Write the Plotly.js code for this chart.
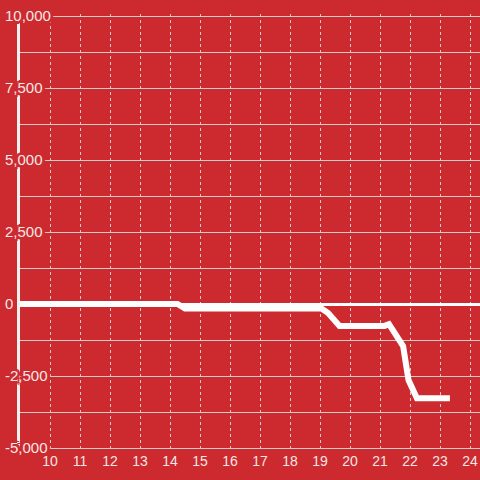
<!DOCTYPE html>
<html>
<head>
<meta charset="utf-8">
<script src="https://cdn.plot.ly/plotly-3.0.1.min.js"></script>
<style>html,body{margin:0;padding:0;background:#cc2a2f;}#chart{width:480px;height:480px;}</style>
</head>
<body>
<div id="chart"></div>
<script>
// Data
const xValues = [9, 14.25, 14.5, 19.05, 19.27, 19.65, 21.15, 21.3, 21.77, 21.95, 22.23, 23.33];
const yValues = [0, 0, -160, -160, -310, -760, -760, -700, -1460, -2640, -3270, -3270];
const xTickValues = [10, 11, 12, 13, 14, 15, 16, 17, 18, 19, 20, 21, 22, 23, 24];
const yTickValues = [-5000, -2500, 0, 2500, 5000, 7500, 10000];
const yTickLabels = ['-5,000', '-2,500', '0', '2,500', '5,000', '7,500', '10,000'];

const BG = '#cc2a2f';
const GRID = '#d6cccc';
const LABEL = '#f6e6e6';
const halo = [
  '2px 0 0 ' + BG, '-2px 0 0 ' + BG, '0 2px 0 ' + BG, '0 -2px 0 ' + BG,
  '2px 2px 0 ' + BG, '-2px -2px 0 ' + BG, '2px -2px 0 ' + BG, '-2px 2px 0 ' + BG,
  '3px 0 0 ' + BG, '-3px 0 0 ' + BG, '0 3px 0 ' + BG, '0 -3px 0 ' + BG
].join(', ');

const lineTrace = {
  x: xValues,
  y: yValues,
  type: 'scatter',
  mode: 'lines',
  line: {color: '#ffffff', width: 6, shape: 'linear'},
  hoverinfo: 'skip',
  showlegend: false
};
// same series bound to the label axis (transparent) so that axis gets drawn
const labelAxisTrace = {
  x: xValues,
  y: yValues,
  yaxis: 'y2',
  type: 'scatter',
  mode: 'lines',
  line: {color: 'rgba(0,0,0,0)', width: 0},
  opacity: 0,
  hoverinfo: 'skip',
  showlegend: false
};

// 2px of extra room at each end so the edge grid lines (10,000 / -5,000) are kept
const unitsPerPx = 2500 / 72;
const yRange = [-5000 - 2 * unitsPerPx, 10000 + 2 * unitsPerPx];

const layout = {
  width: 480,
  height: 480,
  paper_bgcolor: BG,
  plot_bgcolor: BG,
  margin: {l: 0, r: 0, t: 14, b: 30, pad: 0},
  showlegend: false,
  font: {family: 'Liberation Sans, Arial, sans-serif', color: LABEL},
  xaxis: {
    domain: [20 / 480, 1],
    range: [9, 24.333],
    tickmode: 'array',
    tickvals: xTickValues,
    ticktext: xTickValues.map(String),
    showgrid: true,
    gridcolor: GRID,
    gridwidth: 1,
    griddash: 'dot',
    zeroline: false,
    showline: false,
    ticks: '',
    ticklabelstandoff: 1,
    tickfont: {size: 14, color: LABEL, family: 'Liberation Sans, Arial, sans-serif'}
  },
  yaxis: {
    range: yRange,
    tickmode: 'array',
    tickvals: yTickValues,
    showticklabels: false,
    showgrid: true,
    gridcolor: GRID,
    gridwidth: 1,
    minor: {dtick: 1250, showgrid: true, gridcolor: GRID, gridwidth: 1},
    zeroline: true,
    zerolinecolor: '#ffffff',
    zerolinewidth: 3,
    showline: true,
    linecolor: '#f4f0f0',
    linewidth: 3,
    ticks: ''
  },
  yaxis2: {
    overlaying: 'y',
    anchor: 'free',
    position: 0,
    side: 'right',
    range: yRange,
    tickmode: 'array',
    tickvals: yTickValues,
    ticktext: yTickLabels,
    showgrid: false,
    zeroline: false,
    showline: false,
    ticks: '',
    ticklabelstandoff: 4,
    tickfont: {size: 15, color: LABEL, family: 'Liberation Sans, Arial, sans-serif', shadow: halo}
  }
};

Plotly.newPlot('chart', [lineTrace, labelAxisTrace], layout, {staticPlot: true, displayModeBar: false});
</script>
</body>
</html>
